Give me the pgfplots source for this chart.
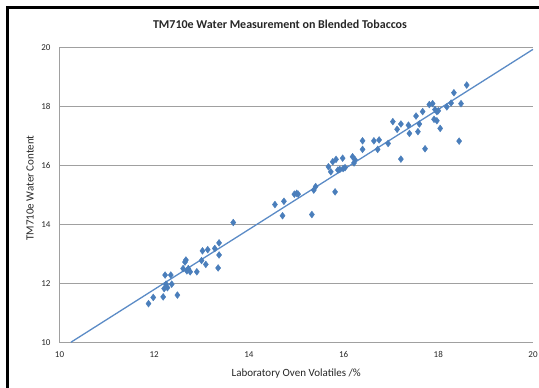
\documentclass[border=0pt]{standalone}
\usepackage{pgfplots}
\pgfplotsset{compat=1.18}
\usepackage{fontspec}
\setmainfont{Carlito}
\definecolor{mkblue}{HTML}{4A7EBB}
\definecolor{lnblue}{HTML}{5B8BC6}
\definecolor{gridgray}{HTML}{A0A0A0}
\definecolor{txt}{HTML}{262626}
\begin{document}
\begin{tikzpicture}[x=1pt,y=1pt]
\useasboundingbox (0,0) rectangle (539,388);
\draw[black, line width=2.5pt] (7.5,0) -- (7.5,380.5) -- (539,380.5);
\node[font=\bfseries\fontsize{12}{14}\selectfont, text=txt] at (280,364) {TM710e Water Measurement on Blended Tobaccos};
\begin{axis}[
  at={(59.5pt,45.7pt)}, anchor=south west,
  scale only axis, width=473.5pt, height=295pt,
  xmin=10, xmax=20, ymin=10, ymax=20,
  xtick={10,12,...,20}, ytick={10,12,...,20},
  axis lines=left,
  axis line style={gridgray, line width=1.2pt, -},
  ymajorgrids,
  major grid style={gridgray, line width=1.2pt},
  major tick length=0pt,
  /pgf/number format/assume math mode=true,
  tick label style={font=\fontsize{9}{10}\selectfont, text=txt},
  xticklabel style={yshift=-6pt},
  yticklabel style={xshift=-5.5pt},
  xlabel={Laboratory Oven Volatiles /\%},
  ylabel={TM710e Water Content},
  label style={font=\fontsize{11}{12}\selectfont, text=txt},
  xlabel style={at={(axis description cs:0.5,-0.1075)}, anchor=center},
  ylabel style={at={(axis description cs:-0.0623,0.523)}, anchor=center},
  clip=false,
]
\addplot[only marks, mark=diamond*, mark size=3.4pt, mkblue, mark options={fill=mkblue, draw=mkblue}] table {
x y
11.88 11.31
11.98 11.52
12.19 11.54
12.21 11.82
12.25 11.97
12.23 12.28
12.35 12.28
12.37 11.97
12.28 11.85
12.49 11.60
12.61 12.50
12.65 12.72
12.67 12.79
12.69 12.42
12.72 12.50
12.76 12.39
12.90 12.39
13.00 12.77
13.02 13.10
13.13 13.14
13.09 12.64
13.28 13.18
13.37 13.37
13.37 12.96
13.35 12.52
13.67 14.06
14.55 14.67
14.74 14.78
14.71 14.29
14.96 15.02
15.01 15.05
15.04 15.02
15.33 14.33
15.37 15.16
15.41 15.28
15.82 15.10
15.68 15.95
15.73 15.78
15.77 16.12
15.84 16.20
15.88 15.84
15.92 15.86
15.99 15.89
16.03 15.92
15.98 16.24
16.19 16.29
16.22 16.08
16.24 16.19
16.40 16.83
16.40 16.54
16.64 16.83
16.75 16.86
16.72 16.54
16.94 16.74
17.04 17.48
17.13 17.22
17.21 17.40
17.21 16.21
17.37 17.36
17.39 17.08
18.60 18.72
18.33 18.46
18.48 18.09
18.27 18.11
18.18 17.98
17.81 18.06
17.88 18.09
17.93 17.89
17.97 17.82
18.00 17.85
17.91 17.56
17.97 17.51
18.04 17.25
17.67 17.82
17.53 17.67
17.57 17.14
17.60 17.40
17.72 16.56
18.44 16.82
};
\addplot[lnblue, line width=1.3pt] coordinates {(10.24,10) (20,19.93)};
\end{axis}
\end{tikzpicture}
\end{document}
